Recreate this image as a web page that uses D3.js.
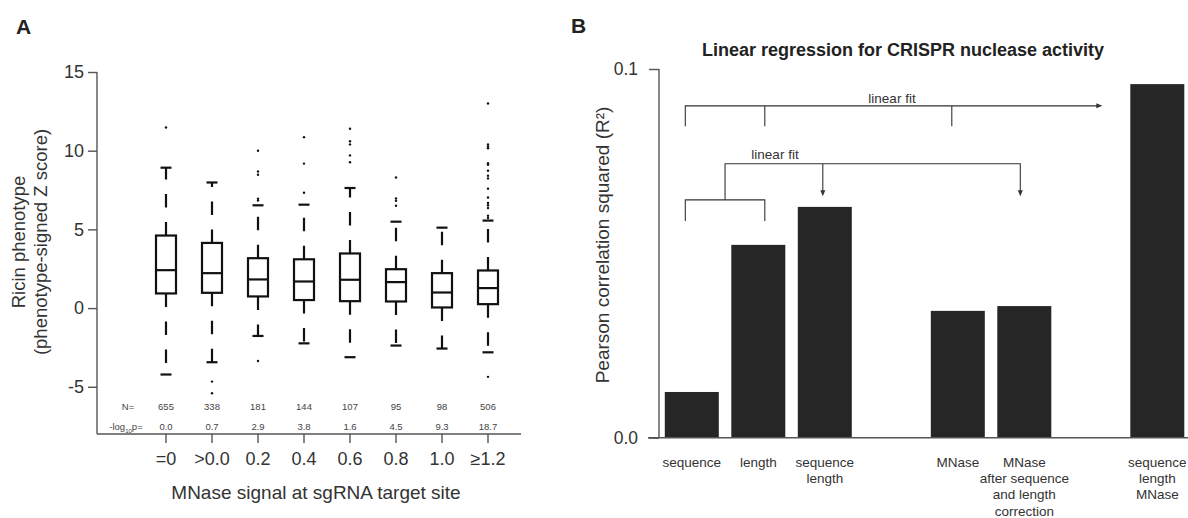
<!DOCTYPE html>
<html>
<head>
<meta charset="utf-8">
<script src="https://cdn.jsdelivr.net/npm/d3@7"></script>
<style>
  body { margin: 0; background: #fff; }
  svg { display: block; font-family: "Liberation Sans", Arial, sans-serif; }
</style>
</head>
<body>
<div id="chart"></div>
<script>
// ---- panel A data ----
const bins = ["=0", ">0.0", "0.2", "0.4", "0.6", "0.8", "1.0", "\u22651.2"];
const nCounts = [655, 338, 181, 144, 107, 95, 98, 506];
const logP = ["0.0", "0.7", "2.9", "3.8", "1.6", "4.5", "9.3", "18.7"];
const whiskLow = [-4.22, -3.44, -1.77, -2.24, -3.12, -2.38, -2.57, -2.81];
const q1 = [0.93, 0.97, 0.74, 0.51, 0.44, 0.42, 0.04, 0.25];
const medians = [2.41, 2.22, 1.82, 1.69, 1.80, 1.65, 0.99, 1.27];
const q3 = [4.61, 4.14, 3.17, 3.10, 3.47, 2.47, 2.22, 2.39];
const whiskHigh = [8.92, 7.98, 6.53, 6.57, 7.63, 5.49, 5.11, 5.56];
const outliers = [
  [11.47],
  [-4.67, -5.41],
  [10.0, 8.68, 8.47, 6.95, 6.84, -3.36],
  [10.86, 9.18, 7.33],
  [11.39, 10.6, 10.4, 9.7, 9.27],
  [8.3, 6.97, 6.82, 6.5],
  [],
  [13.0, 10.39, 10.27, 10.16, 9.21, 9.1, 8.73, 8.41, 8.24, 7.59, 7.03, 6.68, 6.53, 6.36, 5.87, 5.73, -4.37]
];
const yTicksA = [-5, 0, 5, 10, 15];

// ---- panel B data ----
const models = ["sequence", "length", "sequence\nlength", "MNase",
  "MNase\nafter sequence\nand length\ncorrection", "sequence\nlength\nMNase"];
const r2 = [0.0124, 0.0523, 0.0626, 0.0344, 0.0357, 0.0959];
const slots = ["sequence", "length", "sequence\nlength", "gap1", "MNase",
  "MNase\nafter sequence\nand length\ncorrection", "gap2", "sequence\nlength\nMNase"];

const W = 1188, H = 518;
const svg = d3.select("#chart").append("svg")
  .attr("width", W).attr("height", H);
svg.append("rect").attr("width", W).attr("height", H).attr("fill", "#fff");

const axisColor = "#555";

// ================= Panel A =================
svg.append("text").attr("x", 16).attr("y", 34)
  .attr("font-size", 21).attr("font-weight", "bold").attr("fill", "#222").text("A");

const yA = d3.scaleLinear().domain([-8, 15]).range([434, 72]);
const xA = d3.scaleBand().domain(bins).range([143, 511]).padding(0);
const cx = d => xA(d) + xA.bandwidth() / 2;

const gA = svg.append("g");

// y axis (hyphen minus like the original, not the unicode minus)
const yAxisA = gA.append("g").attr("transform", "translate(97,0)")
  .call(d3.axisLeft(yA).tickValues(yTicksA).tickFormat(d => String(d))
    .tickSize(9).tickSizeOuter(0).tickPadding(4));
yAxisA.select(".domain").remove();
yAxisA.append("line").attr("y1", yA(15)).attr("y2", 434)
  .attr("stroke", axisColor).attr("stroke-width", 1.4);
yAxisA.selectAll(".tick line").attr("stroke", axisColor).attr("stroke-width", 1.4);
yAxisA.selectAll(".tick text").attr("font-size", 18).attr("fill", "#333")
  .attr("font-family", "Liberation Sans, Arial, sans-serif");

// x axis
const xAxisA = gA.append("g").attr("transform", "translate(0,434)")
  .call(d3.axisBottom(xA).tickSize(9).tickSizeOuter(0).tickPadding(9));
xAxisA.select(".domain").remove();
xAxisA.append("line").attr("x1", 97).attr("x2", 521)
  .attr("stroke", axisColor).attr("stroke-width", 1.4);
xAxisA.selectAll(".tick line").attr("stroke", axisColor).attr("stroke-width", 1.4);
xAxisA.selectAll(".tick text").attr("font-size", 18).attr("fill", "#333")
  .attr("font-family", "Liberation Sans, Arial, sans-serif");

// axis titles
svg.append("text").attr("x", 316).attr("y", 499).attr("text-anchor", "middle")
  .attr("font-size", 19).attr("fill", "#333").text("MNase signal at sgRNA target site");
const yTitleA = svg.append("text").attr("transform", "translate(0,242) rotate(-90)")
  .attr("text-anchor", "middle").attr("font-size", 18.5).attr("fill", "#333");
yTitleA.append("tspan").attr("x", 0).attr("y", 25).text("Ricin phenotype");
yTitleA.append("tspan").attr("x", 0).attr("y", 47).text("(phenotype-signed Z score)");

// N= and -log10 p rows
const statRows = gA.append("g").attr("font-size", 9.5).attr("fill", "#444")
  .attr("text-anchor", "middle");
statRows.append("text").attr("x", 128).attr("y", 410).text("N=");
const lp = statRows.append("text").attr("x", 126).attr("y", 430);
lp.append("tspan").text("-log");
lp.append("tspan").attr("font-size", 6).attr("dy", 2.5).text("10");
lp.append("tspan").attr("dy", -2.5).text("p=");
statRows.selectAll(".n").data(bins).join("text")
  .attr("x", d => cx(d)).attr("y", 410).text((d, i) => nCounts[i]);
statRows.selectAll(".p").data(bins).join("text")
  .attr("x", d => cx(d)).attr("y", 430).text((d, i) => logP[i]);

// boxes
const boxW = 20, capW = 11;
const boxes = gA.selectAll(".box").data(bins).join("g")
  .attr("transform", d => `translate(${cx(d)},0)`);
const stroke = "#111";
boxes.append("line").attr("y1", (d, i) => yA(q3[i])).attr("y2", (d, i) => yA(whiskHigh[i]))
  .attr("stroke", stroke).attr("stroke-width", 2.2).attr("stroke-dasharray", "13.5,14.5");
boxes.append("line").attr("y1", (d, i) => yA(q1[i])).attr("y2", (d, i) => yA(whiskLow[i]))
  .attr("stroke", stroke).attr("stroke-width", 2.2).attr("stroke-dasharray", "13.5,14.5");
boxes.append("line").attr("x1", -capW / 2).attr("x2", capW / 2)
  .attr("y1", (d, i) => yA(whiskHigh[i])).attr("y2", (d, i) => yA(whiskHigh[i]))
  .attr("stroke", stroke).attr("stroke-width", 2.2);
boxes.append("line").attr("x1", -capW / 2).attr("x2", capW / 2)
  .attr("y1", (d, i) => yA(whiskLow[i])).attr("y2", (d, i) => yA(whiskLow[i]))
  .attr("stroke", stroke).attr("stroke-width", 2.2);
boxes.append("rect").attr("x", -boxW / 2).attr("width", boxW)
  .attr("y", (d, i) => yA(q3[i])).attr("height", (d, i) => yA(q1[i]) - yA(q3[i]))
  .attr("fill", "#fff").attr("stroke", stroke).attr("stroke-width", 2.2);
boxes.append("line").attr("x1", -boxW / 2).attr("x2", boxW / 2)
  .attr("y1", (d, i) => yA(medians[i])).attr("y2", (d, i) => yA(medians[i]))
  .attr("stroke", stroke).attr("stroke-width", 2.2);
boxes.each(function (d, i) {
  d3.select(this).selectAll("circle").data(outliers[i]).join("circle")
    .attr("cx", 0).attr("cy", v => yA(v)).attr("r", 1.2).attr("fill", "#111");
});

// ================= Panel B =================
svg.append("text").attr("x", 571).attr("y", 33)
  .attr("font-size", 21).attr("font-weight", "bold").attr("fill", "#222").text("B");

svg.append("text").attr("x", 903).attr("y", 56).attr("text-anchor", "middle")
  .attr("font-size", 18).attr("font-weight", "bold").attr("fill", "#222")
  .text("Linear regression for CRISPR nuclease activity");

const yB = d3.scaleLinear().domain([0, 0.1]).range([437.7, 69]);
const xB = d3.scaleBand().domain(slots).range([664.8, 1184.3])
  .paddingInner(0.188).paddingOuter(0);

const gB = svg.append("g");
gB.selectAll(".bar").data(models).join("rect")
  .attr("x", d => xB(d)).attr("width", xB.bandwidth())
  .attr("y", (d, i) => yB(r2[i])).attr("height", (d, i) => yB(0) - yB(r2[i]))
  .attr("fill", "#262626");

const yAxisB = gB.append("g").attr("transform", "translate(659,0)")
  .call(d3.axisLeft(yB).tickValues([0, 0.1]).tickFormat(d3.format(".1f"))
    .tickSize(10).tickSizeOuter(0).tickPadding(11));
yAxisB.select(".domain").remove();
yAxisB.append("line").attr("y1", yB(0.1)).attr("y2", yB(0))
  .attr("stroke", axisColor).attr("stroke-width", 1.4);
yAxisB.selectAll(".tick line").attr("stroke", axisColor).attr("stroke-width", 1.4);
yAxisB.selectAll(".tick text").attr("font-size", 17.5).attr("fill", "#333")
  .attr("font-family", "Liberation Sans, Arial, sans-serif");
gB.append("line").attr("x1", 648).attr("x2", W).attr("y1", yB(0)).attr("y2", yB(0))
  .attr("stroke", axisColor).attr("stroke-width", 1.4);

svg.append("text").attr("transform", "translate(609,245) rotate(-90)")
  .attr("text-anchor", "middle").attr("font-size", 19).attr("fill", "#333")
  .text("Pearson correlation squared (R\u00b2)");

// category labels
gB.selectAll(".lab").data(models).join("text")
  .attr("text-anchor", "middle").attr("font-size", 13.5).attr("fill", "#333")
  .attr("transform", d => `translate(${xB(d) + xB.bandwidth() / 2},467)`)
  .each(function (d) {
    d3.select(this).selectAll("tspan").data(d.split("\n")).join("tspan")
      .attr("x", 0).attr("y", (t, j) => j * 16.2).text(t => t);
  });

// linear-fit brackets
const lineCol = "#333";
const xs1 = xB("sequence") + 20.5, xs2 = xB("length") + 33.5;
const xMn = xB("MNase") + 21;
const xSL = xB("sequence\nlength") + xB.bandwidth() / 2 - 2;
const xAfter = xB("MNase\nafter sequence\nand length\ncorrection") + xB.bandwidth() / 2 - 4;
const xEnd = xB("sequence\nlength\nMNase") - 28;
const br = gB.append("g").attr("stroke", lineCol).attr("stroke-width", 1.1).attr("fill", "none");
// top bracket
br.append("path").attr("d",
  `M${xs1},${yB(0.0845)}V${yB(0.090)}H${xEnd - 5}M${xs2},${yB(0.090)}V${yB(0.0845)}M${xMn},${yB(0.090)}V${yB(0.0845)}`);
// lower bracket
const xMid = (xs1 + xs2) / 2;
br.append("path").attr("d",
  `M${xs1},${yB(0.0588)}V${yB(0.0645)}H${xs2}V${yB(0.0588)}M${xMid},${yB(0.0645)}V${yB(0.0743)}H${xAfter}V${yB(0.0665)}M${xSL},${yB(0.0743)}V${yB(0.0665)}`);
// arrow heads
const heads = gB.append("g").attr("fill", lineCol);
heads.append("path").attr("d", `M${xEnd},${yB(0.090)}l-6,-2.5v5z`);
[xSL, xAfter].forEach(x => {
  heads.append("path").attr("d", `M${x},${yB(0.0655)}l-2.5,-6h5z`);
});
gB.append("text").attr("x", 892).attr("y", yB(0.090) - 3).attr("text-anchor", "middle")
  .attr("font-size", 13.5).attr("fill", "#333").text("linear fit");
gB.append("text").attr("x", 775).attr("y", yB(0.0743) - 5).attr("text-anchor", "middle")
  .attr("font-size", 13.5).attr("fill", "#333").text("linear fit");
</script>
</body>
</html>
